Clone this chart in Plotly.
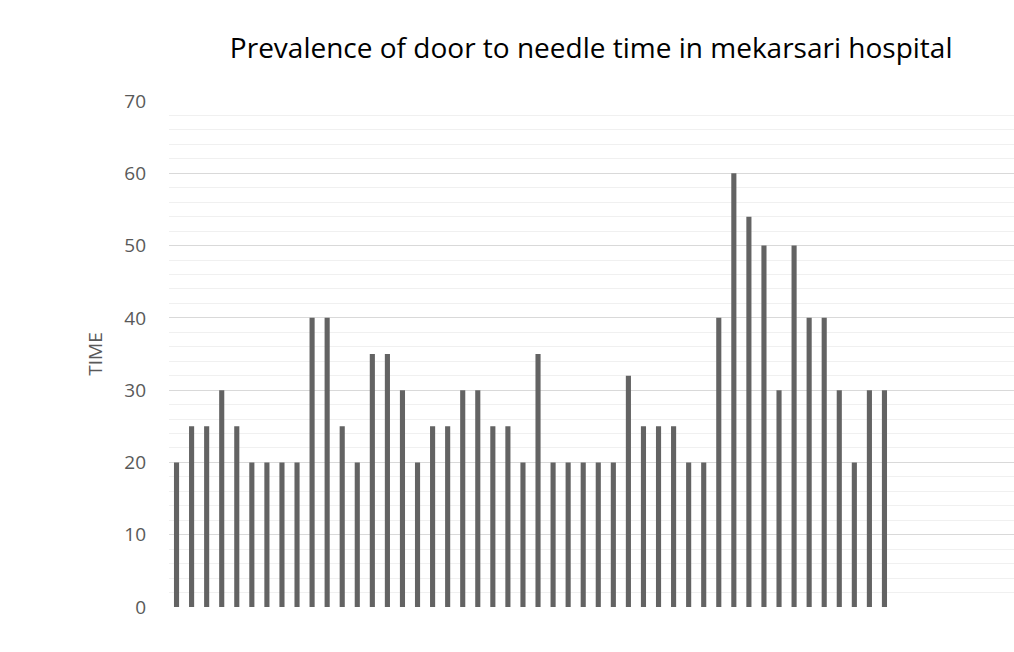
import plotly.graph_objects as go

patients = list(range(1, 49))
times = [20, 25, 25, 30, 25, 20, 20, 20, 20, 40, 40, 25, 20, 35, 35, 30,
         20, 25, 25, 30, 30, 25, 25, 20, 35, 20, 20, 20, 20, 20, 32, 25,
         25, 25, 20, 20, 40, 60, 54, 50, 30, 50, 40, 40, 30, 20, 30, 30]
y_ticks = [0, 10, 20, 30, 40, 50, 60, 70]

fig = go.Figure(go.Bar(x=patients, y=times, width=0.34,
                       marker=dict(color="#636363", line=dict(width=0))))

fig.update_layout(
    width=1014, height=652,
    paper_bgcolor="white", plot_bgcolor="white",
    margin=dict(l=169, r=0, t=101, b=45),
    title=dict(text="Prevalence of door to needle time in mekarsari hospital",
               x=0.583, xanchor="center", y=0.926, yanchor="middle",
               font=dict(family="Open Sans", size=28, color="#000000")),
    showlegend=False,
)
fig.update_xaxes(range=[0.5, 56.6], showticklabels=False, showgrid=False,
                 zeroline=False, showline=False, ticks="")
fig.update_yaxes(range=[0, 70], tickvals=y_ticks, showgrid=True,
                 gridcolor="#d9d9d9", gridwidth=1, zeroline=False,
                 showline=False, ticks="", ticklabelstandoff=22,
                 tickfont=dict(family="Open Sans", size=19, color="#595959"),
                 minor=dict(dtick=2, showgrid=True, gridcolor="#f0f0f0", gridwidth=1),
                 title=dict(text="TIME", standoff=16,
                            font=dict(family="Open Sans", size=19, color="#595959")))

fig.write_html("out.html", config={"displayModeBar": False},
               post_script="document.body.style.margin='0';document.body.style.overflow='hidden';")
